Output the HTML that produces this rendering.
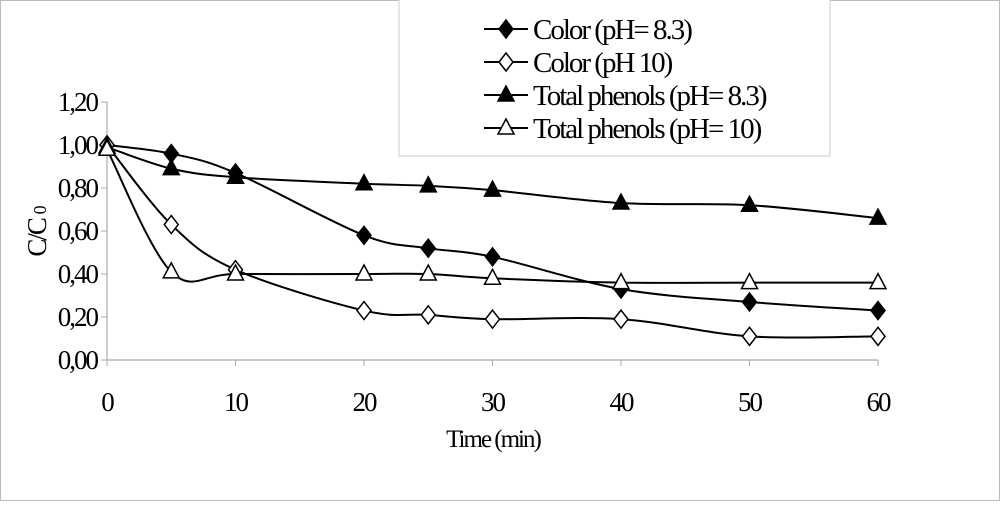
<!DOCTYPE html>
<html><head><meta charset="utf-8"><style>
body{margin:0;background:#fff}
svg, svg text{font-family:"Liberation Serif","DejaVu Serif",serif}
text{letter-spacing:-2px}
</style></head><body>
<svg id="c" width="1000" height="501" viewBox="0 0 1000 501" font-family="Liberation Serif, serif">
<rect x="0.5" y="0.5" width="999" height="500" fill="#fff" stroke="#bbb"/>
<g id="axes"></g><g id="series"></g>
<g>
<rect x="399" y="-1" width="431" height="157" fill="#fff" stroke="#ccc"/>
<g id="legend"></g>
</g>
<text x="0" y="0" font-size="27" transform="translate(46,232) rotate(-90)" text-anchor="middle">C/C <tspan font-size="18">0</tspan></text>
<text x="493" y="447" font-size="25" text-anchor="middle">Time (min)</text>
</svg>
<script>
const times=[0,5,10,20,25,30,40,50,60];
const colorPh83=[1.00,0.96,0.87,0.58,0.52,0.48,0.33,0.27,0.23];
const colorPh10=[1.00,0.63,0.42,0.23,0.21,0.19,0.19,0.11,0.11];
const phenolsPh83=[0.99,0.89,0.85,0.82,0.81,0.79,0.73,0.72,0.66];
const phenolsPh10=[0.98,0.41,0.40,0.40,0.40,0.38,0.36,0.36,0.36];
const xTicks=[0,10,20,30,40,50,60];
const yTicks=[0,0.2,0.4,0.6,0.8,1.0,1.2];
const seriesNames=["Color (pH= 8.3)","Color (pH 10)","Total phenols (pH= 8.3)","Total phenols (pH= 10)"];
const NS="http://www.w3.org/2000/svg";
const X=v=>107+v*(878-107)/60, Y=v=>360-v*(360-102)/1.2;
function mk(t,a,p){const e=document.createElementNS(NS,t);for(const k in a)e.setAttribute(k,a[k]);p.appendChild(e);return e;}
const ax=document.getElementById('axes');
let yl=mk('line',{x1:107,y1:102,x2:107,y2:360,stroke:'#aaa','stroke-width':1.2},ax);


let xl=mk('line',{x1:107,y1:360,x2:878,y2:360,stroke:'#aaa','stroke-width':1.2},ax);


yTicks.forEach(v=>{mk('line',{x1:101,x2:107,y1:Y(v),y2:Y(v),stroke:'#aaa'},ax);
 const t=mk('text',{x:97,y:Y(v)+9,'font-size':27,'text-anchor':'end'},ax);t.textContent=v.toFixed(2).replace('.',',');
 
 });
xTicks.forEach(v=>{mk('line',{x1:X(v),x2:X(v),y1:360,y2:366,stroke:'#aaa'},ax);
 const t=mk('text',{x:X(v),y:411,'font-size':27,'text-anchor':'middle'},ax);t.textContent=v;
 
 });
function path(pts){let d=`M${pts[0][0]},${pts[0][1]}`;for(let i=0;i<pts.length-1;i++){const p0=pts[i-1]||pts[i],p1=pts[i],p2=pts[i+1],p3=pts[i+2]||p2;
 d+=` C${p1[0]+(p2[0]-p0[0])/6},${p1[1]+(p2[1]-p0[1])/6} ${p2[0]-(p3[0]-p1[0])/6},${p2[1]-(p3[1]-p1[1])/6} ${p2[0]},${p2[1]}`;}return d;}
function marker(kind,x,y,g){
 if(kind<2)return mk('polygon',{points:`${x},${y-9} ${x+7},${y} ${x},${y+9} ${x-7},${y}`,fill:kind==0?'#000':'#fff',stroke:'#000','stroke-width':1.5},g);
 return mk('polygon',{points:`${x},${y-9} ${x+8},${y+6} ${x-8},${y+6}`,fill:kind==2?'#000':'#fff',stroke:'#000','stroke-width':1.5},g);}
const sg=document.getElementById('series');
const all=[colorPh83,colorPh10,phenolsPh83,phenolsPh10];
const names=['color-ph83','color-ph10','phenols-ph83','phenols-ph10'];
all.forEach((s,k)=>{const g=mk('g',{},sg);
 
 
 const pts=times.map((t,i)=>[X(t),Y(s[i])]);
 mk('path',{d:path(pts),fill:'none',stroke:'#000','stroke-width':2},g);
 pts.forEach(p=>{const m=marker(k,p[0],p[1],g);
  
  });});
const lg=document.getElementById('legend');
seriesNames.forEach((n,k)=>{const y=29+k*33;const g=mk('g',{},lg);
 
 
 mk('line',{x1:484,x2:528,y1:y,y2:y,stroke:'#000','stroke-width':2},g);
 marker(k,506,y,g);
 const t=mk('text',{x:533,y:y+10,'font-size':29},g);t.textContent=n;});
</script>
</body></html>
